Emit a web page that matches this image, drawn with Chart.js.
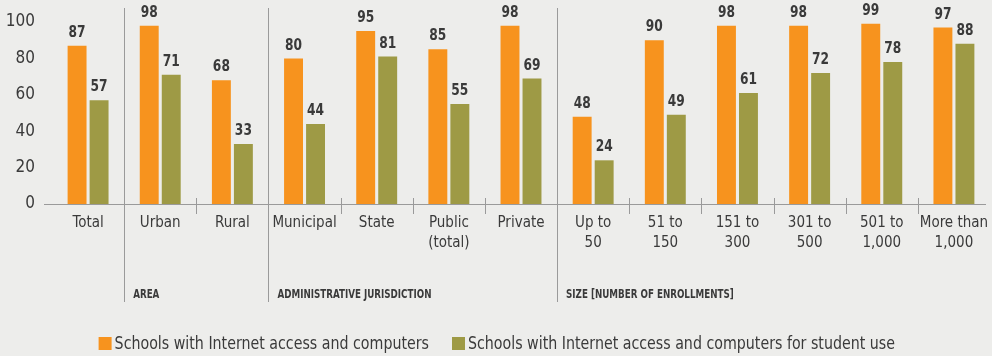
<!DOCTYPE html>
<html>
<head>
<meta charset="utf-8">
<script src="https://cdn.jsdelivr.net/npm/chart.js@4"></script>
<style>
  html, body { margin: 0; padding: 0; background: #ededeb; }
  #wrap { width: 992px; height: 356px; position: relative; }
</style>
</head>
<body>
<div id="wrap"><canvas id="chart" width="992" height="356"></canvas></div>
<script>
// данные с картинки
const categories = ['Total', 'Urban', 'Rural', 'Municipal', 'State', ['Public', '(total)'], 'Private',
  ['Up to', '50'], ['51 to', '150'], ['151 to', '300'], ['301 to', '500'], ['501 to', '1,000'], ['More than', '1,000']];
const internetComputers = [87, 98, 68, 80, 95, 85, 98, 48, 90, 98, 98, 99, 97];
const studentUse = [57, 71, 33, 44, 81, 55, 69, 24, 49, 61, 72, 78, 88];
const seriesNames = ['Schools with Internet access and computers', 'Schools with Internet access and computers for student use'];
const yTicks = [0, 20, 40, 60, 80, 100];
// группы: индекс первой категории и подпись
const groupStarts = [1, 3, 7];
const groupNames = ['AREA', 'ADMINISTRATIVE JURISDICTION', 'SIZE [NUMBER OF ENROLLMENTS]'];

const FONT = '"DejaVu Sans Condensed", "Liberation Sans Narrow", sans-serif';
const TEXT = '#3a3a3a';
const LINE = '#9a9a9a';

// узкий текст: сжимаем по горизонтали
function narrowText(ctx, text, x, y, sx, align) {
    ctx.save();
    ctx.translate(x, y);
    ctx.scale(sx, 1);
    ctx.textAlign = align;
    ctx.fillText(text, 0, 0);
    ctx.restore();
}

// подписи значений над столбиками
const valueLabels = {
    id: 'valueLabels',
    afterDatasetsDraw(chart) {
        const ctx = chart.ctx;
        ctx.save();
        ctx.font = 'bold 16px ' + FONT;
        ctx.fillStyle = TEXT;
        ctx.textBaseline = 'middle';
        chart.data.datasets.forEach((ds, i) => {
            chart.getDatasetMeta(i).data.forEach((bar, j) => {
                narrowText(ctx, String(ds.data[j]), bar.x, bar.y - 13, 0.85, 'center');
            });
        });
        ctx.restore();
    }
};

// ось, разделители групп, подписи групп и легенда
const decorations = {
    id: 'decorations',
    afterDraw(chart) {
        const ctx = chart.ctx;
        const x = chart.scales.x;
        const y0 = chart.scales.y.getPixelForValue(0);
        const half = (x.getPixelForValue(1) - x.getPixelForValue(0)) / 2;
        ctx.save();
        ctx.strokeStyle = LINE;
        ctx.lineWidth = 1;
        ctx.beginPath();
        ctx.moveTo(44, Math.round(y0) + 0.5);
        ctx.lineTo(x.right - 4, Math.round(y0) + 0.5);
        ctx.stroke();
        for (let i = 1; i < categories.length; i++) {
            const px = Math.round(x.getPixelForValue(i) - half) + 0.5;
            ctx.beginPath();
            if (groupStarts.includes(i)) {
                ctx.moveTo(px, 8);
                ctx.lineTo(px, 302);
            } else {
                ctx.moveTo(px, y0 - 6);
                ctx.lineTo(px, y0 + 10);
            }
            ctx.stroke();
        }
        ctx.font = 'bold 13px ' + FONT;
        ctx.fillStyle = TEXT;
        ctx.textBaseline = 'middle';
        const gScale = 154 / ctx.measureText(groupNames[1]).width;
        groupStarts.forEach((g, k) => {
            const px = x.getPixelForValue(g) - half;
            narrowText(ctx, groupNames[k], px + 9, 295, gScale, 'left');
        });

        // легенда
        ctx.font = '18px ' + FONT;
        const lScale = 427 / ctx.measureText(chart.data.datasets[1].label).width;
        const w0 = ctx.measureText(chart.data.datasets[0].label).width * lScale;
        let lx = 452 - 23 - w0 - 16;
        chart.data.datasets.forEach((ds) => {
            ctx.fillStyle = ds.backgroundColor;
            ctx.fillRect(lx, 337, 13, 13);
            ctx.fillStyle = TEXT;
            narrowText(ctx, ds.label, lx + 16, 344, lScale, 'left');
            lx += 16 + ctx.measureText(ds.label).width * lScale + 23;
        });
        ctx.restore();
    }
};

new Chart(document.getElementById('chart'), {
    type: 'bar',
    data: {
        labels: categories,
        datasets: [{
            label: seriesNames[0],
            data: internetComputers,
            backgroundColor: '#f7931e'
        }, {
            label: seriesNames[1],
            data: studentUse,
            backgroundColor: '#9e9a45'
        }]
    },
    options: {
        responsive: false,
        animation: false,
        events: [],
        categoryPercentage: 0.61,
        barPercentage: 0.86,
        layout: { padding: { top: 22, right: 2, left: 0, bottom: 0 } },
        plugins: {
            legend: { display: false },
            tooltip: { enabled: false }
        },
        scales: {
            x: {
                grid: { display: false },
                border: { display: false },
                ticks: { color: TEXT, font: { family: FONT, size: 15, lineHeight: 1.33 }, padding: 1, maxRotation: 0, autoSkip: false },
                afterFit(scale) {
                    scale.height = 152;
                    scale.paddingLeft = 0;
                    scale.paddingRight = 0;
                }
            },
            y: {
                min: 0,
                max: 100,
                afterBuildTicks(scale) { scale.ticks = yTicks.map(v => ({ value: v })); },
                grid: { display: false, drawTicks: false },
                border: { display: false },
                ticks: { color: TEXT, font: { family: FONT, size: 17 }, padding: 17 },
                afterFit(scale) {
                    scale.width = 52;
                    scale.paddingTop = 0;
                    scale.paddingBottom = 0;
                }
            }
        }
    },
    plugins: [valueLabels, decorations]
});
</script>
</body>
</html>
